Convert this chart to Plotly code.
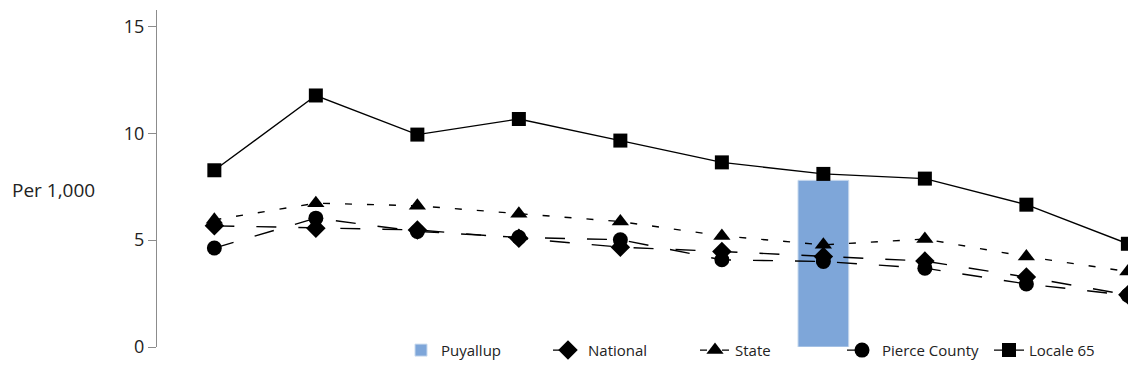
import plotly.graph_objects as go

# ten periods along the x axis (no labels shown in the original)
periods = list(range(10))

puyallup = [None, None, None, None, None, None, 7.8, None, None, None]
national = [5.67, 5.56, 5.48, 5.09, 4.67, 4.47, 4.23, 4.02, 3.27, 2.44]
state = [5.95, 6.73, 6.61, 6.23, 5.87, 5.20, 4.78, 5.05, 4.23, 3.53]
pierce_county = [4.63, 6.03, 5.41, 5.13, 5.02, 4.08, 4.00, 3.69, 2.95, 2.42]
locale_65 = [8.27, 11.77, 9.94, 10.67, 9.66, 8.64, 8.10, 7.88, 6.66, 4.83]

y_ticks = [0, 5, 10, 15]

FONT = "Open Sans"

# the page body has an 8px margin, so the figure is 8px smaller each way
W, H = 1128, 380
ML, MT, MB = 149, 2, 41
plot_w = W - ML
plot_h = H - MT - MB

fig = go.Figure()

fig.add_trace(go.Bar(
    x=periods, y=puyallup, name="Puyallup",
    width=0.5,
    marker=dict(color="#7EA6D9", line=dict(color="#C9DAEE", width=1)),
))

line_series = [
    ("National", national, "20px,22px", "diamond", 15),
    ("State", state, "7px,15px", "triangle-up", 15),
    ("Pierce County", pierce_county, "20px,22px", "circle", 15),
    ("Locale 65", locale_65, "solid", "square", 14),
]

for name, values, dash, symbol, size in line_series:
    fig.add_trace(go.Scatter(
        x=periods, y=values, name=name,
        mode="lines+markers",
        line=dict(color="black", width=1.4, dash=dash),
        marker=dict(symbol=symbol, size=size, color="black"),
        cliponaxis=False,
    ))

fig.update_layout(
    width=W,
    height=H,
    margin=dict(l=ML, r=0, t=MT, b=MB),
    plot_bgcolor="white",
    paper_bgcolor="white",
    font=dict(family=FONT, size=16, color="#222222"),
    showlegend=True,
    legend=dict(
        orientation="h",
        x=1, xanchor="right",
        y=-0.01, yanchor="middle",
        font=dict(size=15, color="#222222"),
        entrywidth=102,
        bgcolor="rgba(0,0,0,0)",
        traceorder="normal",
    ),
    annotations=[dict(
        text="Per 1,000", xref="paper", yref="paper",
        x=(2 - ML) / plot_w, xanchor="left",
        y=(339 - 182) / plot_h, yanchor="middle",
        showarrow=False, font=dict(size=19, color="#222222"),
    )],
)

fig.update_xaxes(
    range=[-0.565, 9.08],
    showline=False, showgrid=False, zeroline=False,
    showticklabels=False, ticks="",
)
fig.update_yaxes(
    range=[0, 15.77],
    tickvals=y_ticks,
    showline=True, linecolor="#8C8C8C", linewidth=1,
    ticks="outside", ticklen=8, tickcolor="#8C8C8C",
    showgrid=False, zeroline=False,
    tickfont=dict(size=18, color="#222222"),
)

fig.write_html("out.html")
